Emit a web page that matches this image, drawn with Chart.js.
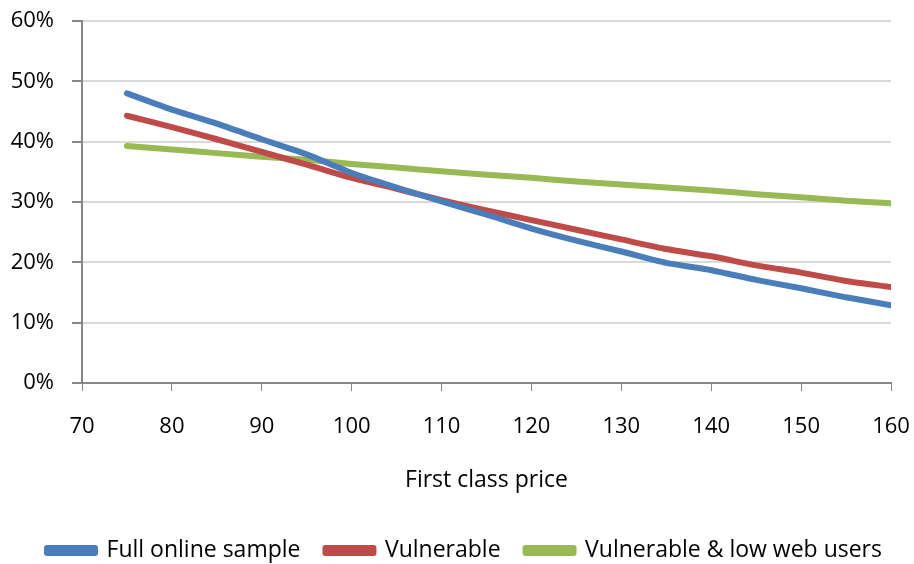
<!DOCTYPE html>
<html lang="en">
<head>
    <meta charset="UTF-8">
    <title>First class price</title>
    <script src="https://cdn.jsdelivr.net/npm/chart.js@4.4.0/dist/chart.umd.min.js"></script>
    <style>
        body {
            margin: 0;
            background-color: #fff;
        }

        .chart-box {
            width: 914px;
            height: 564px;
        }
    </style>
</head>
<body>

    <div class="chart-box">
        <canvas id="priceChart" width="914" height="564"></canvas>
    </div>

    <script>
    // Giá vé hạng nhất (trục x) và tỷ lệ % cho từng nhóm
    const prices = [75, 80, 85, 90, 95, 100, 105, 110, 115, 120, 125, 130, 135, 140, 145, 150, 155, 160];
    const fullSample = [48.0, 45.3, 43.0, 40.4, 37.9, 34.8, 32.4, 30.1, 27.9, 25.6, 23.6, 21.8, 19.9, 18.7, 17.1, 15.7, 14.2, 12.9];
    const vulnerable = [44.3, 42.4, 40.4, 38.3, 36.2, 34.0, 32.2, 30.3, 28.6, 27.0, 25.4, 23.8, 22.2, 21.0, 19.5, 18.3, 16.9, 15.9];
    const lowWeb = [39.3, 38.7, 38.1, 37.5, 37.0, 36.3, 35.7, 35.1, 34.5, 34.0, 33.4, 32.9, 32.4, 31.9, 31.3, 30.8, 30.2, 29.8];
    const seriesNames = ['Full online sample', 'Vulnerable', 'Vulnerable & low web users'];
    const seriesColors = ['#4a7ebb', '#be4b48', '#98b954'];
    const yTicks = [0, 10, 20, 30, 40, 50, 60];

    const fontFamily = '"Open Sans", Lato, sans-serif';
    const axisGray = '#868686';

    function toPoints(values) {
        return prices.map((p, i) => ({ x: p, y: values[i] }));
    }

    const datasets = [fullSample, vulnerable, lowWeb].map((values, i) => ({
        label: seriesNames[i],
        data: toPoints(values),
        borderColor: seriesColors[i],
        backgroundColor: seriesColors[i],
        borderWidth: 6,
        borderCapStyle: 'round',
        borderJoinStyle: 'round',
        pointRadius: 0,
        tension: 0.2
    }));

    // Dời chú thích sang phải một chút sau khi bố cục xong
    const legendShift = {
        id: 'legendShift',
        afterLayout(chart) {
            chart.legend.left += 19;
            chart.legend.right += 19;
        }
    };

    const priceChart = new Chart(document.getElementById('priceChart').getContext('2d'), {
        type: 'line',
        data: { datasets: datasets },
        plugins: [legendShift],
        options: {
            responsive: false,
            animation: false,
            layout: {
                padding: { top: 21, right: 23, left: 0, bottom: 0 }
            },
            plugins: {
                tooltip: { enabled: false },
                legend: {
                    position: 'bottom',
                    maxHeight: 50,
                    labels: {
                        boxWidth: 48,
                        boxHeight: 5,
                        padding: 25,
                        color: '#000',
                        font: { family: fontFamily, size: 23 }
                    }
                }
            },
            scales: {
                x: {
                    type: 'linear',
                    min: 70,
                    max: 160,
                    // chiều cao cố định, bỏ phần đệm tự động ở hai đầu trục
                    afterFit: (scale) => {
                        scale.height = 131;
                        scale.paddingLeft = 0;
                        scale.paddingRight = 0;
                    },
                    ticks: {
                        stepSize: 10,
                        padding: 23,
                        color: '#000',
                        font: { family: fontFamily, size: 22 }
                    },
                    grid: {
                        drawOnChartArea: false,
                        tickLength: 8,
                        tickColor: axisGray
                    },
                    border: { color: axisGray, width: 2 },
                    title: {
                        display: true,
                        text: 'First class price',
                        color: '#000',
                        font: { family: fontFamily, size: 23 },
                        padding: { top: 0, bottom: 20 }
                    }
                },
                y: {
                    min: 0,
                    max: 60,
                    afterFit: (scale) => {
                        scale.width = 82;
                        scale.paddingTop = 0;
                        scale.paddingBottom = 0;
                    },
                    afterBuildTicks: (scale) => {
                        scale.ticks = yTicks.map(v => ({ value: v }));
                    },
                    ticks: {
                        padding: 18,
                        color: '#000',
                        font: { family: fontFamily, size: 22 },
                        callback: (v) => v + '%'
                    },
                    grid: {
                        color: '#d9d9d9',
                        lineWidth: 2,
                        tickLength: 10,
                        tickColor: axisGray
                    },
                    border: { color: axisGray, width: 2 }
                }
            }
        }
    });
    </script>

</body>
</html>
